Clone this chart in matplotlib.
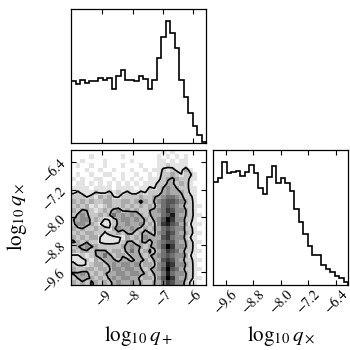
import numpy as np
import matplotlib
matplotlib.use("Agg")
import matplotlib.pyplot as plt

plt.rcParams['font.family'] = 'serif'
plt.rcParams['font.serif'] = ['STIXGeneral', 'Liberation Serif', 'DejaVu Serif']
plt.rcParams['mathtext.fontset'] = 'stix'

# parameter ranges (axis limits of the corner plot)
qp_range = [-10.03, -5.58]
qx_range = [-9.96, -6.04]

# 1d marginal counts, 30 bins each
qp_counts = [185, 177, 188, 181, 185, 187, 196, 189, 194, 162,
             202, 218, 190, 189, 187, 200, 192, 162, 190, 255,
             317, 365, 330, 285, 190, 137, 90, 50, 25, 2]
qx_counts = [308, 320, 366, 333, 336, 338, 325, 335, 358, 333,
             290, 271, 323, 355, 305, 318, 303, 281, 225, 188,
             153, 115, 88, 88, 60, 48, 38, 28, 20, 8]

# 2d density, 30x30 grey levels 0-9, top row = largest log10 q_x
dens_rows = [
    "000000000000000000001010000000",
    "000010000001000000010101010000",
    "001000010000010000011010110000",
    "010010010001000100011211110000",
    "000100100100010010112121131000",
    "010010011001001001012232122100",
    "101001100101010101112333221100",
    "011010101010101011122332321000",
    "111101111011110112123433221100",
    "121112112121211212223433321100",
    "222121323112222322334554322100",
    "323232233223323332345665432100",
    "2323121232232323232" "35654" "322110",
    "3233212323423232233" "45764" "432100",
    "2343223235343433233" "35684" "332110",
    "3344232112344343323" "46974" "422100",
    "2443321112334334232" "47865" "331110",
    "3232232213433432323" "35654" "422100",
    "2323322122323323332" "45764" "332110",
    "3232331111113232433" "36754" "421100",
    "3323221111123323323" "45664" "332110",
    "2334332222233433233" "46974" "432100",
    "3233233323323532332" "35765" "322110",
    "1121233532332333233" "45654" "431100",
    "1112132333233233323" "36764" "322110",
    "2111233234344342332" "45874" "432100",
    "3223323324434433233" "46965" "322110",
    "3343232333443443323" "35854" "432100",
    "2333323234344332332" "46974" "332110",
    "3232332323433433223" "35764" "421100",
]

qp_ticks = [-9, -8, -7, -6]
qx_ticks = [-9.6, -8.8, -8.0, -7.2, -6.4]
contour_levels = [1.45, 2.8]

H = np.array([[int(c) for c in r] for r in dens_rows], dtype=float)[::-1]
nb = H.shape[0]
xe = np.linspace(qp_range[0], qp_range[1], nb + 1)
ye = np.linspace(qx_range[0], qx_range[1], nb + 1)

fig = plt.figure(figsize=(3.5, 3.5), dpi=100)
ax_top = fig.add_axes([0.203, 0.591, 0.386, 0.383])
ax2d = fig.add_axes([0.203, 0.186, 0.386, 0.386])
ax_r = fig.add_axes([0.609, 0.186, 0.386, 0.386])

for ax in (ax_top, ax2d, ax_r):
    ax.tick_params(direction='in', top=True, right=True, length=3.5,
                   width=0.8, labelsize=10, pad=2)
    for s in ax.spines.values():
        s.set_linewidth(0.9)

# top marginal
ax_top.stairs(qp_counts, xe, color='k', lw=1.2)
ax_top.set_xlim(qp_range)
ax_top.set_ylim(0, 1.1 * max(qp_counts))
ax_top.set_xticks(qp_ticks)
ax_top.set_xticklabels([])
ax_top.set_yticks([])

# right marginal
qxe = np.linspace(qx_range[0], qx_range[1], len(qx_counts) + 1)
ax_r.stairs(qx_counts, qxe, color='k', lw=1.2)
ax_r.set_xlim(qx_range)
ax_r.set_ylim(0, 1.1 * max(qx_counts))
ax_r.set_xticks(qx_ticks)
ax_r.set_yticks([])
for t in ax_r.get_xticklabels():
    t.set_rotation(45)
ax_r.set_xlabel(r"$\log_{10}q_\times$", fontsize=15)
ax_r.xaxis.set_label_coords(0.5, -0.29)

# 2d density + lightly smoothed contours (padded so lines run to the frame)
ax2d.pcolormesh(xe, ye, H, cmap='gray_r', vmin=0, vmax=H.max())
k = np.array([1.0, 4.0, 1.0]) / 6
sm = lambda v: np.convolve(np.pad(v, 1, mode='edge'), k, 'valid')
Hs = np.apply_along_axis(sm, 1, np.apply_along_axis(sm, 0, H))
Hp = np.pad(Hs, 1, mode='edge')
xc = 0.5 * (xe[1:] + xe[:-1])
yc = 0.5 * (ye[1:] + ye[:-1])
dx, dy = xe[1] - xe[0], ye[1] - ye[0]
xc = np.concatenate([[xc[0] - dx], xc, [xc[-1] + dx]])
yc = np.concatenate([[yc[0] - dy], yc, [yc[-1] + dy]])
ax2d.contour(xc, yc, Hp, contour_levels, colors='k', linewidths=1.2)
ax2d.set_xlim(qp_range)
ax2d.set_ylim(qx_range)
ax2d.set_xticks(qp_ticks)
ax2d.set_yticks(qx_ticks)
for t in ax2d.get_xticklabels() + ax2d.get_yticklabels():
    t.set_rotation(45)
ax2d.set_xlabel(r"$\log_{10}q_+$", fontsize=15)
ax2d.xaxis.set_label_coords(0.5, -0.29)
ax2d.set_ylabel(r"$\log_{10}q_\times$", fontsize=15)
ax2d.yaxis.set_label_coords(-0.31, 0.5)

fig.savefig("out.png", dpi=100)
